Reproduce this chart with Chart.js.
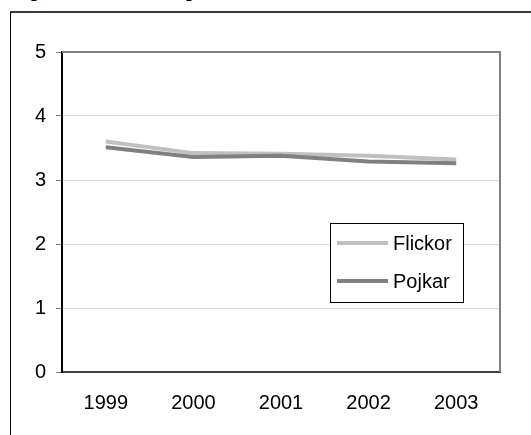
<!DOCTYPE html>
<html>
<head>
<meta charset="utf-8">
<script src="https://cdn.jsdelivr.net/npm/chart.js@4/dist/chart.umd.min.js"></script>
<style>
    body { margin: 0; background: #fff; overflow: hidden; }
    #wrap { position: relative; width: 531px; height: 435px; overflow: hidden; }
    #frame { position: absolute; left: 10px; top: 11px; width: 600px; height: 500px;
             border-top: 2px solid #3a3a3a; border-left: 1px solid #000; }
    .cut { position: absolute; top: -22px; font: bold 20px "Liberation Serif"; color: #000; }
    #chart { position: absolute; left: 0; top: 0; }
</style>
</head>
<body>
<div id="wrap">
    <div class="cut" style="left:31px">p</div>
    <div class="cut" style="left:186px">p</div>
    <div id="frame"></div>
    <canvas id="chart" width="531" height="435"></canvas>
</div>
<script>
const years = ["1999", "2000", "2001", "2002", "2003"];
const flickor = [3.60, 3.42, 3.41, 3.38, 3.32];
const pojkar = [3.51, 3.36, 3.38, 3.29, 3.26];
const seriesNames = ["Flickor", "Pojkar"];
const seriesColors = ["#c0c0c0", "#808080"];

const FONT = { family: "'Liberation Sans', Arial, sans-serif", size: 20 };

// gray top and right edge of the plot area
const plotFrame = {
    id: "plotFrame",
    afterDraw(chart) {
        const a = chart.chartArea, ctx = chart.ctx;
        ctx.save();
        ctx.strokeStyle = "#808080";
        ctx.lineWidth = 2;
        ctx.beginPath();
        ctx.moveTo(a.left, a.top);
        ctx.lineTo(a.right, a.top);
        ctx.lineTo(a.right, a.bottom);
        ctx.stroke();
        ctx.restore();
    }
};

// boxed legend inside the plot
const boxLegend = {
    id: "boxLegend",
    afterDraw(chart) {
        const ctx = chart.ctx;
        const x = 330, y = 223, w = 133, h = 79;
        ctx.save();
        ctx.fillStyle = "#fff";
        ctx.fillRect(x, y, w, h);
        ctx.strokeStyle = "#000";
        ctx.lineWidth = 1;
        ctx.strokeRect(x + 0.5, y + 0.5, w, h);
        chart.data.datasets.forEach((ds, i) => {
            const ly = 243 + i * 38;
            ctx.strokeStyle = ds.borderColor;
            ctx.lineWidth = 4;
            ctx.beginPath();
            ctx.moveTo(337, ly);
            ctx.lineTo(388, ly);
            ctx.stroke();
            ctx.fillStyle = "#000";
            ctx.font = FONT.size + "px " + FONT.family;
            ctx.textBaseline = "middle";
            ctx.fillText(ds.label, 393, ly + 1);
        });
        ctx.restore();
    }
};

new Chart(document.getElementById("chart"), {
    type: "line",
    data: {
        labels: years,
        datasets: [
            { label: seriesNames[0], data: flickor, borderColor: seriesColors[0], order: 2 },
            { label: seriesNames[1], data: pojkar, borderColor: seriesColors[1], order: 1 }
        ]
    },
    options: {
        responsive: false,
        animation: false,
        layout: { padding: { left: 0, top: 52, right: 31, bottom: 0 } },
        elements: {
            line: { borderWidth: 4, tension: 0, borderCapStyle: "butt", borderJoinStyle: "round" },
            point: { radius: 0, hoverRadius: 0 }
        },
        plugins: { legend: { display: false }, tooltip: { enabled: false } },
        scales: {
            x: {
                offset: true,
                grid: { display: false, drawTicks: false },
                border: { color: "#404040", width: 2 },
                ticks: { color: "#000", font: FONT, padding: 19, maxRotation: 0 },
                afterFit(scale) { scale.height = 63; }
            },
            y: {
                min: 0,
                max: 5,
                ticks: { stepSize: 1, color: "#000", font: FONT, padding: 10 },
                grid: { color: "#d9d9d9", lineWidth: 1, tickLength: 6, tickColor: "#808080" },
                border: { color: "#000", width: 2 },
                afterFit(scale) { scale.width = 62; }
            }
        }
    },
    plugins: [plotFrame, boxLegend]
});
</script>
</body>
</html>
